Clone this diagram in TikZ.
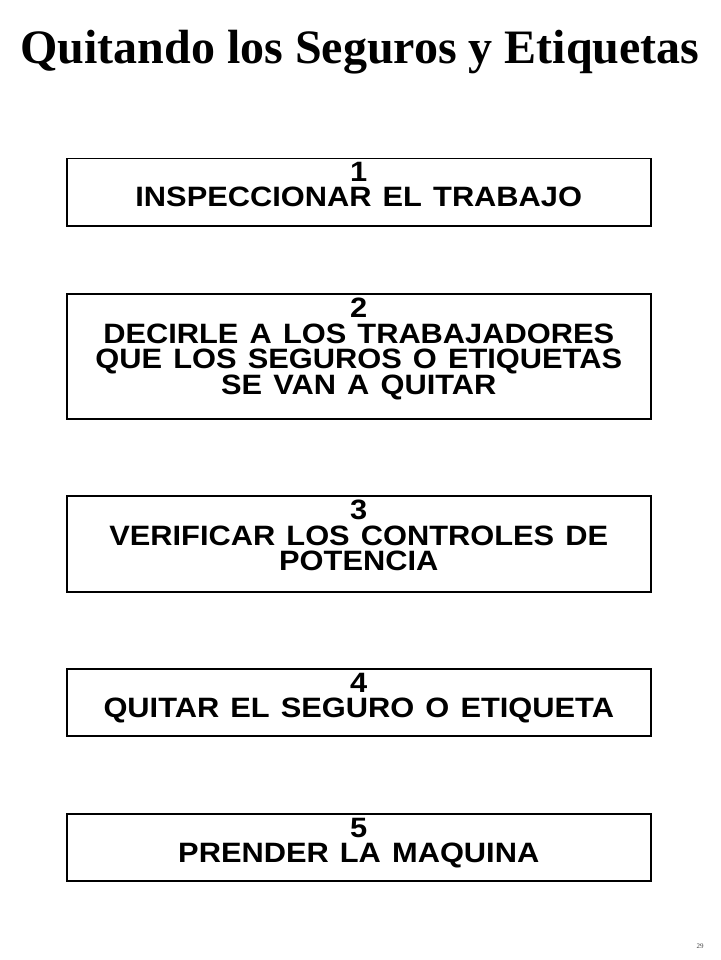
\documentclass[tikz,border=0pt]{standalone}
\usepackage{fontspec}
\setmainfont{Liberation Serif}
\newfontfamily\boxfont[FakeStretch=1.1,WordSpace=1.3]{Liberation Sans}
\begin{document}
\begin{tikzpicture}[x=1pt,y=-1pt,
  stepbox/.style={draw, line width=1.5pt, minimum width=584pt, inner sep=0pt, anchor=north west},
  steptext/.style={font=\boxfont\bfseries\fontsize{28}{25.5}\selectfont, align=center, inner sep=0pt, anchor=north}]
\useasboundingbox (0,0) rectangle (720,960);
\node[font=\bfseries\fontsize{48}{50}\selectfont, anchor=base, inner sep=0pt] (title) at (360,64) {Quitando los Seguros y Etiquetas};
\node[stepbox, minimum height=67pt] (b1) at (66,158) {};
\node[steptext] (t1) at ([yshift=-4pt]b1.north) {1\\INSPECCIONAR EL TRABAJO};
\node[stepbox, minimum height=125pt] (b2) at (66,293) {};
\node[steptext] (t2) at ([yshift=-5pt]b2.north) {2\\DECIRLE A LOS TRABAJADORES\\QUE LOS SEGUROS O ETIQUETAS\\SE VAN A QUITAR};
\node[stepbox, minimum height=96pt] (b3) at (66,495) {};
\node[steptext] (t3) at ([yshift=-5pt]b3.north) {3\\VERIFICAR LOS CONTROLES DE\\POTENCIA};
\node[stepbox, minimum height=67pt] (b4) at (66,668) {};
\node[steptext] (t4) at ([yshift=-5pt]b4.north) {4\\QUITAR EL SEGURO O ETIQUETA};
\node[stepbox, minimum height=67pt] (b5) at (66,813) {};
\node[steptext] (t5) at ([yshift=-5pt]b5.north) {5\\PRENDER LA MAQUINA};
\node[font=\fontsize{7}{8}\selectfont, text=black!75, inner sep=0pt] (pg) at (700,946) {29};
\end{tikzpicture}
\end{document}
